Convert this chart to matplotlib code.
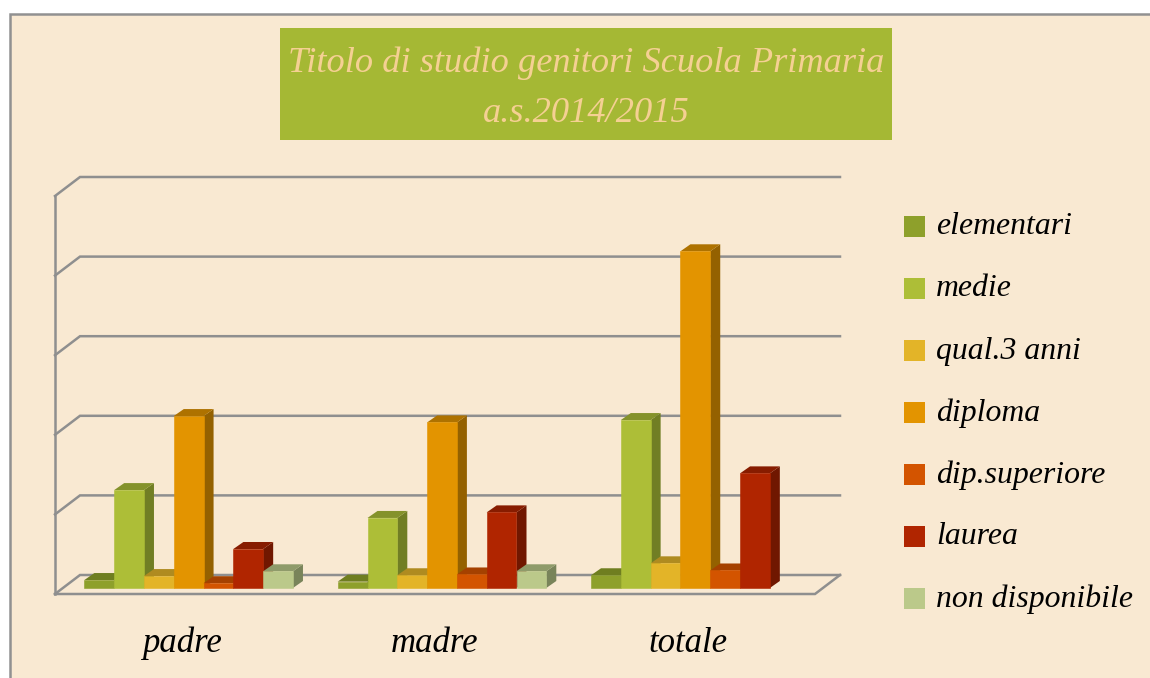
import numpy as np
import matplotlib
matplotlib.use('Agg')
import matplotlib.pyplot as plt
from matplotlib.patches import Polygon, Rectangle

categories = ['padre', 'madre', 'totale']
series_names = ['elementari', 'medie', 'qual.3 anni', 'diploma', 'dip.superiore', 'laurea', 'non disponibile']

elementari = [1.0, 0.8, 1.6]
medie = [12.3, 8.8, 21.1]
qual3 = [1.5, 1.6, 3.1]
diploma = [21.6, 20.8, 42.3]
dip_superiore = [0.6, 1.7, 2.2]
laurea = [4.9, 9.5, 14.4]
non_disponibile = [2.1, 2.1, 0.0]
series_values = [elementari, medie, qual3, diploma, dip_superiore, laurea, non_disponibile]

grid_values = [0, 10, 20, 30, 40, 50]

front_colors = ['#8EA02B', '#ADBE37', '#E3B428', '#E39400', '#D35400', '#B02500', '#BBC98A']
top_colors = ['#6F7E20', '#84922B', '#AF8B20', '#AE7200', '#A54100', '#871C00', '#8F9B6A']
side_colors = ['#5F6C1B', '#717E24', '#947519', '#946100', '#8C3700', '#701700', '#79845A']

W, H = 1150, 678
BG = '#F9E9D2'
LINE = '#8F8F8F'
FONT = {'family': 'Liberation Serif', 'style': 'italic'}

# bars plane in pixels
PX_LEFT, PX_BASE, PX_WIDTH, PX_HEIGHT = 62, 588, 760, 398
px_x = PX_WIDTH / 3.0
px_y = PX_HEIGHT / 50.0

fig = plt.figure(figsize=(W / 100, H / 100), dpi=100, facecolor='white')

# panel and frame, runs off the right and bottom edges
fig.patches.append(Rectangle((10 / W, -0.02), 1.1, 1.02 - 13.5 / H, transform=fig.transFigure,
                             facecolor=BG, edgecolor='#919191', linewidth=1.8, zorder=-2))
fig.patches.append(Rectangle((280 / W, 1 - 140 / H), 612 / W, 112 / H, transform=fig.transFigure,
                             facecolor='#A5B834', edgecolor='none', zorder=-1))

ax = fig.add_axes([PX_LEFT / W, 1 - PX_BASE / H, PX_WIDTH / W, PX_HEIGHT / H])
ax.set_xlim(-0.5, 2.5)
ax.set_ylim(0, 50)
ax.axis('off')


def dx(p):
  return p / px_x


def dy(p):
  return p / px_y


# walls and grid, offset from the bars plane
fx, fy = -7, -6
bx, by = 18, 13
x0, x1 = -0.5, 2.5
for v in grid_values:
  xs = [x0 + dx(fx), x0 + dx(bx), x1 + dx(bx)]
  ys = [v + dy(fy), v + dy(by), v + dy(by)]
  ax.plot(xs, ys, color=LINE, lw=1.8, clip_on=False, zorder=1, solid_joinstyle='miter')
ax.plot([x0 + dx(fx), x0 + dx(fx)], [dy(fy), 50 + dy(fy)], color=LINE, lw=1.8, clip_on=False, zorder=1)
ax.plot([x0 + dx(fx), x1 + dx(fx), x1 + dx(bx)], [dy(fy), dy(fy), dy(by)],
        color=LINE, lw=1.8, clip_on=False, zorder=1, solid_joinstyle='miter')

# bars
bar_w = 29.8 / px_x
depth_x, depth_y = dx(10), dy(7)
x = np.arange(len(categories))
for i in range(len(categories)):
  for s, vals in enumerate(series_values):
    v = vals[i]
    if v <= 0:
      continue
    left = x[i] + (s - 3.5) * bar_w
    right = left + bar_w
    z = 3 + i * 10 + s
    ax.add_patch(Polygon([(right, 0), (right + depth_x, depth_y), (right + depth_x, v + depth_y), (right, v)],
                         facecolor=side_colors[s], edgecolor='none', clip_on=False, zorder=z))
    ax.add_patch(Polygon([(left, v), (left + depth_x, v + depth_y), (right + depth_x, v + depth_y), (right, v)],
                         facecolor=top_colors[s], edgecolor='none', clip_on=False, zorder=z))
    ax.bar(left, v, bar_w, align='edge', color=front_colors[s], edgecolor=front_colors[s],
           linewidth=0.4, clip_on=False, zorder=z + 0.5)

# category labels
for i, name in enumerate(categories):
  ax.text(x[i] + dx(-7), dy(-55), name, ha='center', va='center', fontsize=25, color='black', **FONT)

# title
fig.text(586 / W, 1 - 63 / H, 'Titolo di studio genitori Scuola Primaria', ha='center', va='center',
         fontsize=26.2, color='#F5D093', **FONT)
fig.text(586 / W, 1 - 113 / H, 'a.s.2014/2015', ha='center', va='center',
         fontsize=26.2, color='#F5D093', **FONT)

# legend
for s, name in enumerate(series_names):
  y_top = 216 + 62 * s
  fig.patches.append(Rectangle((904 / W, 1 - (y_top + 21) / H), 21 / W, 21 / H, transform=fig.transFigure,
                               facecolor=front_colors[s], edgecolor='none', zorder=-1))
  fig.text(936 / W, 1 - (y_top + 11) / H, name, ha='left', va='center', fontsize=22.9, color='black', **FONT)

fig.savefig('out.png', dpi=100, facecolor='white')
